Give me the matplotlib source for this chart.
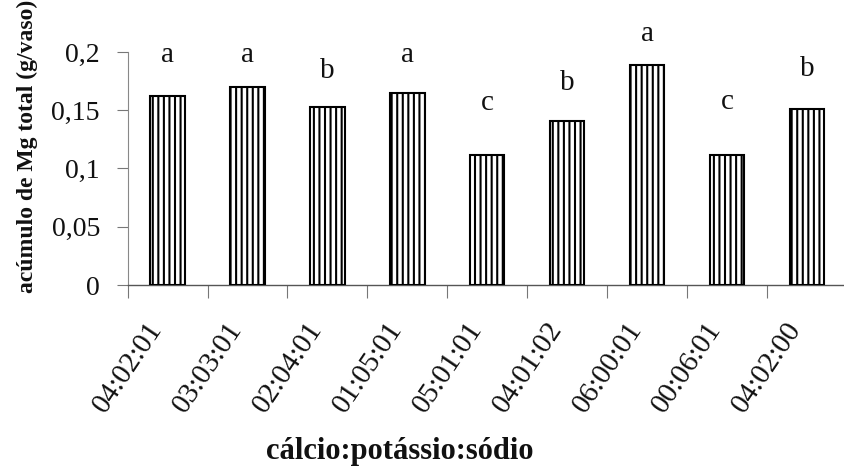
import matplotlib
matplotlib.use("Agg")
import matplotlib.pyplot as plt
import numpy as np

categories = ["04:02:01", "03:03:01", "02:04:01", "01:05:01", "05:01:01",
              "04:01:02", "06:00:01", "00:06:01", "04:02:00"]
mg_total = [0.162, 0.170, 0.153, 0.165, 0.112, 0.141, 0.189, 0.112, 0.151]
letters = ["a", "a", "b", "a", "c", "b", "a", "c", "b"]
letter_heights = [0.191, 0.191, 0.178, 0.191, 0.150, 0.167, 0.209, 0.151, 0.179]
yticks = [0, 0.05, 0.1, 0.15, 0.2]
ytick_labels = ["0", "0,05", "0,1", "0,15", "0,2"]

plt.rcParams['font.family'] = ['Liberation Serif', 'DejaVu Serif']
plt.rcParams['hatch.linewidth'] = 1.5
plt.rcParams['hatch.color'] = 'black'

fig = plt.figure(figsize=(8.44, 4.67), dpi=100)
ax = fig.add_axes([0.1513, 0.3897, 0.852, 0.499])

x = np.arange(len(categories))
ax.bar(x, mg_total, width=0.43, facecolor='white', edgecolor='black',
       linewidth=1.5, hatch='|||', zorder=3)

for xi, lab, hy in zip(x, letters, letter_heights):
    ax.text(xi, hy, lab, ha='center', va='baseline', fontsize=21,
            color='#111111', clip_on=False)

ax.set_xlim(-0.5, len(categories) - 0.5)
ax.set_ylim(0, 0.2)

ax.set_yticks(yticks)
ax.set_yticklabels(ytick_labels, fontsize=20, color='#111111')
ax.tick_params(axis='y', direction='out', length=8, width=0.8,
               color='#777777', pad=12)

ax.set_xticks(x)
ax.set_xticklabels(categories, fontsize=21, rotation=56, ha='right',
                   va='top', color='#111111')
ax.tick_params(axis='x', which='major', length=0, pad=23)
ax.set_xticks(np.arange(-0.5, len(categories), 1.0), minor=True)
ax.tick_params(axis='x', which='minor', direction='out', length=9,
               width=0.8, color='#777777')

for s in ['top', 'right']:
    ax.spines[s].set_visible(False)
ax.spines['left'].set_color('#888888')
ax.spines['left'].set_linewidth(0.8)
ax.spines['bottom'].set_color('#555555')
ax.spines['bottom'].set_linewidth(1.0)

fig.text(27 / 844, 1 - 146 / 467, "acúmulo de Mg total (g/vaso)", rotation=90,
         fontsize=17, fontweight='bold', ha='center', va='center',
         color='#111111')

fig.text(400 / 844, 1 - 452 / 467, "cálcio:potássio:sódio", fontsize=22,
         fontweight='bold', ha='center', va='center', color='#111111')

fig.savefig("out.png", dpi=100)
